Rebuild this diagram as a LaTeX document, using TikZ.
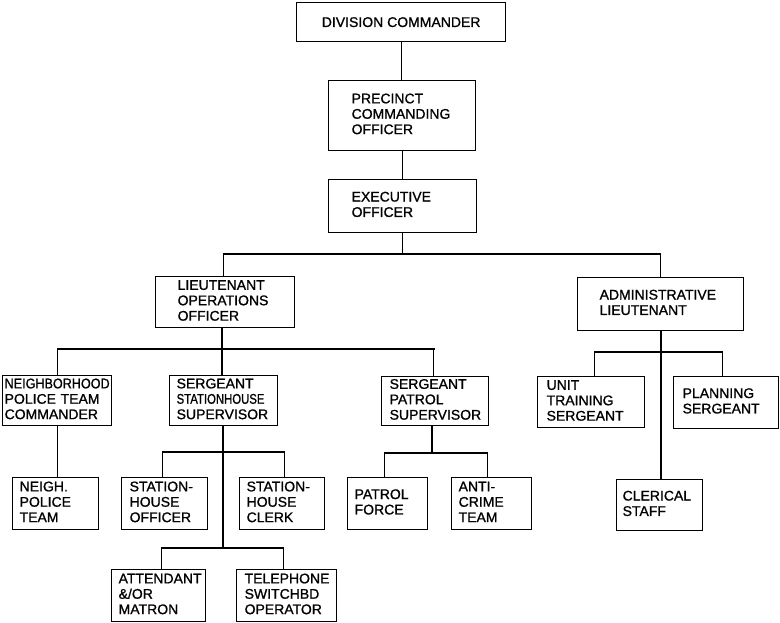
\documentclass[tikz,border=0pt]{standalone}
\usepackage{graphicx}
\usepackage{fontspec}
\setmainfont{Liberation Sans}
\newfontfamily\medfont{Liberation Sans}[FakeBold=1]
\newcommand\obox[7]{\node[bx, minimum height=#5pt, text width=#4pt] (#1) at (#2,#3)
  {\hspace*{#6pt}\begin{tabular}[c]{@{}l@{}}#7\end{tabular}};}
\newcommand\cnd[2]{\scalebox{#1}[1]{#2}}
\begin{document}
\begin{tikzpicture}[x=1pt,y=-1pt,
  bx/.style={draw, line width=1.3pt, anchor=north west, inner xsep=0pt, inner ysep=0pt,
    align=left, font=\fontsize{14}{15.4}\medfont},
  ln/.style={line width=1.3pt}]
\useasboundingbox (0,0) rectangle (780,622);
% boxes
\node[draw, line width=1.3pt, anchor=north west, minimum width=209pt, minimum height=39pt,
  inner sep=0pt, font=\fontsize{14}{15.4}\medfont] (dc) at (296,2) {DIVISION COMMANDER};
\obox{pco}{328}{80}{147}{70}{23}{PRECINCT\\COMMANDING\\OFFICER}
\obox{eo}{328}{179}{148}{53}{23}{EXECUTIVE\\OFFICER}
\obox{lt}{155}{276}{139}{51}{22}{LIEUTENANT\\OPERATIONS\\OFFICER}
\obox{ad}{577}{277}{166}{53}{22}{ADMINISTRATIVE\\LIEUTENANT}
\obox{nh}{2}{375}{109}{50}{2}{\cnd{0.9}{NEIGHBORHOOD}\\POLICE TEAM\\COMMANDER}
\obox{ss}{169}{375}{108}{50}{7}{SERGEANT\\\cnd{0.81}{STATIONHOUSE}\\SUPERVISOR}
\obox{sp}{381}{376}{107}{49}{8}{SERGEANT\\PATROL\\SUPERVISOR}
\obox{ut}{537}{376}{107}{51}{9}{UNIT\\TRAINING\\SERGEANT}
\obox{pl}{673}{376}{105}{52}{9}{PLANNING\\SERGEANT}
\obox{np}{12}{477}{86}{52}{7}{NEIGH.\\POLICE\\TEAM}
\obox{sho}{121}{477}{86}{52}{8}{STATION-\\HOUSE\\OFFICER}
\obox{shc}{239}{477}{85}{52}{7}{STATION-\\HOUSE\\CLERK}
\obox{at}{111}{569}{94}{52}{7}{ATTENDANT\\\&/OR\\MATRON}
\obox{tel}{236}{569}{100}{52}{8}{TELEPHONE\\SWITCHBD\\OPERATOR}
\obox{pf}{347}{477}{80}{52}{7}{PATROL\\FORCE}
\obox{ac}{451}{477}{80}{52}{7}{ANTI-\\CRIME\\TEAM}
\obox{cs}{616}{479}{86}{51}{6}{CLERICAL\\STAFF}
% junctions
\coordinate (j1) at (402,254);
\coordinate (j2) at (222,349);
\coordinate (j3) at (661,352);
\coordinate (j4) at (223,452);
\coordinate (j5) at (223,548);
\coordinate (j6) at (432,453);
% connectors
\draw[ln] (dc.south) -- (dc.south |- pco.north);
\draw[ln] (pco.south) -- (pco.south |- eo.north);
\draw[ln] (eo.south) -- (eo.south |- j1);
\draw[ln] ([xshift=-2pt]lt.north) -- ([xshift=-2pt]lt.north |- j1) -- (ad.north |- j1) -- (ad.north);
\draw[ln] (j2 |- lt.south) -- (j2);
\draw[ln] (nh.south |- j2) -- (sp.north |- j2);
\draw[ln] (nh.south |- j2) -- (nh.north);
\draw[ln] (j2) -- (j2 |- ss.north);
\draw[ln] ([xshift=-2pt]sp.north |- j2) -- ([xshift=-2pt]sp.north);
\draw[ln] (nh.south) -- (nh.south |- np.north);
\draw[ln] (j4 |- ss.south) -- (j5);
\draw[ln] ([xshift=-2pt]sho.north) -- ([xshift=-2pt]sho.north |- j4) -- ([xshift=2pt]shc.north |- j4) -- ([xshift=2pt]shc.north);
\draw[ln] ([xshift=3pt]at.north) -- ([xshift=3pt]at.north |- j5) -- ([xshift=-3pt]tel.north |- j5) -- ([xshift=-3pt]tel.north);
\draw[ln] (j6 |- sp.south) -- (j6);
\draw[ln] ([xshift=-3pt]pf.north) -- ([xshift=-3pt]pf.north |- j6) -- ([xshift=-4pt]ac.north |- j6) -- ([xshift=-4pt]ac.north);
\draw[ln] (j3 |- ad.south) -- (j3 |- cs.north);
\draw[ln] ([xshift=3pt]ut.north) -- ([xshift=3pt]ut.north |- j3) -- ([xshift=-4pt]pl.north |- j3) -- ([xshift=-4pt]pl.north);
\end{tikzpicture}
\end{document}
